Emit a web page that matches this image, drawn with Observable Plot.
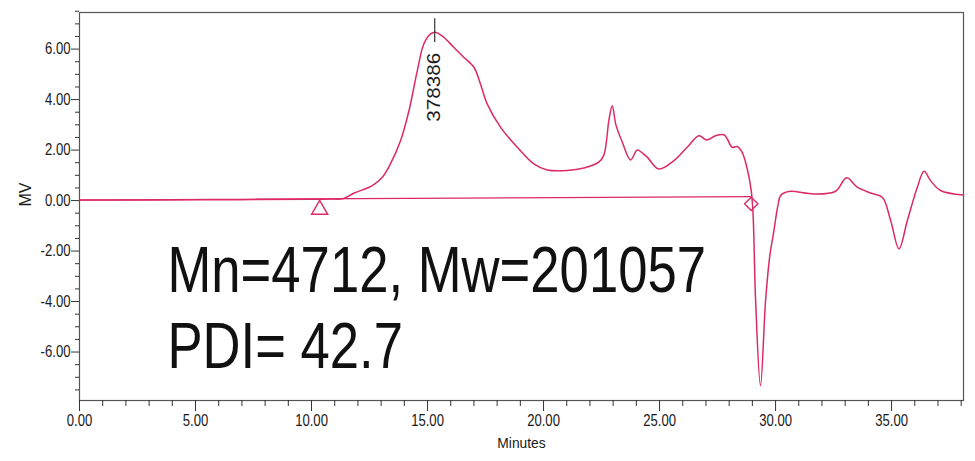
<!DOCTYPE html>
<html>
<head>
<meta charset="utf-8">
<script src="https://cdn.jsdelivr.net/npm/d3@7"></script>
<script src="https://cdn.jsdelivr.net/npm/@observablehq/plot@0.6"></script>
<style>
  html, body { margin: 0; padding: 0; background: #fff; }
  #chart svg { display: block; }
</style>
</head>
<body>
<div id="chart"></div>
<script>
// Chromatogram trace (minutes, MV)
const minutes = [0, 5, 10, 10.8, 11.38, 11.82, 12.62, 13.05, 13.4, 13.84, 14.2, 14.56, 14.84, 15.13, 15.34, 15.7, 16.13, 16.56, 17.0, 17.28, 17.57, 18.15, 18.87, 19.58, 20.16, 21.02, 21.74, 22.38, 22.6, 22.82, 22.96, 23.12, 23.4, 23.75, 24.04, 24.3, 24.47, 24.97, 25.62, 26.19, 26.7, 27.03, 27.41, 27.77, 27.92, 28.13, 28.34, 28.56, 28.78, 28.95, 29.03, 29.14, 29.35, 29.57, 29.75, 29.93, 30.1, 30.22, 30.57, 31.65, 32.59, 33.06, 33.52, 34.09, 34.6, 34.96, 35.32, 35.68, 36.11, 36.4, 36.68, 37.11, 38.1];
const mv      = [0.02, 0.03, 0.05, 0.06, 0.08, 0.29, 0.59, 0.92, 1.45, 2.38, 3.56, 5.15, 6.2, 6.6, 6.67, 6.47, 6.07, 5.68, 5.28, 4.62, 3.83, 2.9, 2.11, 1.45, 1.21, 1.19, 1.29, 1.52, 1.8, 3.2, 3.76, 3.0, 2.3, 1.61, 2.0, 1.85, 1.72, 1.25, 1.58, 2.11, 2.57, 2.4, 2.57, 2.61, 2.44, 2.11, 2.14, 1.91, 1.25, 0.4, -0.53, -3.96, -7.33, -3.96, -2.2, -1.19, -0.2, 0.2, 0.36, 0.26, 0.37, 0.9, 0.53, 0.3, 0.13, -0.79, -1.91, -0.79, 0.53, 1.16, 0.79, 0.4, 0.22];

// Integration baseline and its start / end markers
const baselineT = [0, 28.95];
const baselineMV = [0.02, 0.16];
const startMarker = {t: 10.35, mv: -0.36};
const endMarker = {t: 28.95, mv: -0.13};

// Peak annotation
const peakT = 15.31;
const peakTickMV = [7.2, 6.26];
const peakLabel = "378386";
const peakLabelMV = 5.86;

// Result text
const resultLines = ["Mn=4712, Mw=201057", "PDI= 42.7"];
const resultT = 3.79;
const resultMV = [-3.63, -6.65];

// Axis ticks
const xMajor = [0, 5, 10, 15, 20, 25, 30, 35];
const xMinor = d3.range(0, 39, 1).filter(d => d % 5 !== 0);
const yMajor = [-6, -4, -2, 0, 2, 4, 6];
const yMinor = d3.range(-7.5, 7.6, 0.5).filter(d => Math.abs(d % 2) > 0.01);

const trace = minutes.map((t, i) => ({t, mv: mv[i]}));
const baseline = baselineT.map((t, i) => ({t, mv: baselineMV[i]}));
const results = resultLines.map((s, i) => ({s, t: resultT, mv: resultMV[i]}));

const pink = "#dc2a64";
const font = "'Liberation Sans', Arial, sans-serif";

const chart = Plot.plot({
  width: 975,
  height: 461,
  marginLeft: 79,
  marginRight: 12,
  marginTop: 12,
  marginBottom: 61,
  style: {fontFamily: font, background: "#fff", color: "#1a1a1a"},
  x: {domain: [0, 38.1]},
  y: {domain: [-7.92, 7.45]},
  marks: [
    Plot.frame({stroke: "#555", strokeWidth: 1.2}),
    Plot.axisY(yMajor, {tickSize: 8, tickPadding: 1, fontSize: 16, tickFormat: d => d.toFixed(2), label: null, stroke: "#333"}),
    Plot.axisY(yMinor, {tickSize: 4, tickFormat: () => "", label: null, stroke: "#333"}),
    Plot.axisX(xMajor, {tickSize: 11, tickPadding: 3, fontSize: 16, tickFormat: d => d.toFixed(2), label: null, stroke: "#333"}),
    Plot.axisX(xMinor, {tickSize: 6, tickFormat: () => "", label: null, stroke: "#333"}),
    Plot.text(["MV"], {frameAnchor: "left", dx: -54, rotate: -90, text: d => d, fontSize: 16, fill: "#1a1a1a"}),
    Plot.text(["Minutes"], {frameAnchor: "bottom", dy: 47, text: d => d, fontSize: 15, fill: "#1a1a1a"}),
    Plot.line(baseline, {x: "t", y: "mv", stroke: pink, strokeWidth: 1.3}),
    Plot.line(trace, {x: "t", y: "mv", stroke: pink, strokeWidth: 1.5, curve: "catmull-rom"}),
    Plot.dot([startMarker], {x: "t", y: "mv", symbol: "triangle", r: 6, stroke: pink, strokeWidth: 1.4, fill: "none"}),
    Plot.dot([endMarker], {x: "t", y: "mv", symbol: "diamond2", r: 6, stroke: pink, strokeWidth: 1.4, fill: "none"}),
    Plot.ruleX([peakT], {y1: peakTickMV[0], y2: peakTickMV[1], stroke: "#333", strokeWidth: 1.2}),
    Plot.text([peakLabel], {x: peakT, y: peakLabelMV, text: d => d, rotate: -90, textAnchor: "end", lineAnchor: "middle", fontSize: 18, fill: "#1a1a1a"}),
    Plot.text(results, {x: "t", y: "mv", text: "s", textAnchor: "start", lineAnchor: "bottom", fontSize: 65, fill: "#111"})
  ]
});
document.getElementById("chart").append(chart);

// The reference uses a condensed typeface: squeeze glyphs horizontally.
function squeeze(el, factor) {
  const w = el.getComputedTextLength();
  el.setAttribute("textLength", (w * factor).toFixed(1));
  el.setAttribute("lengthAdjust", "spacingAndGlyphs");
}
chart.querySelectorAll('g[aria-label$="tick label"] text').forEach(t => squeeze(t, 0.82));
chart.querySelectorAll('g[aria-label="text"] text').forEach(t => {
  const s = t.textContent;
  if (resultLines.includes(s)) squeeze(t, 0.81);
  else if (s === peakLabel) squeeze(t, 1.15);
  else if (s === "Minutes") squeeze(t, 0.92);
});
</script>
</body>
</html>
